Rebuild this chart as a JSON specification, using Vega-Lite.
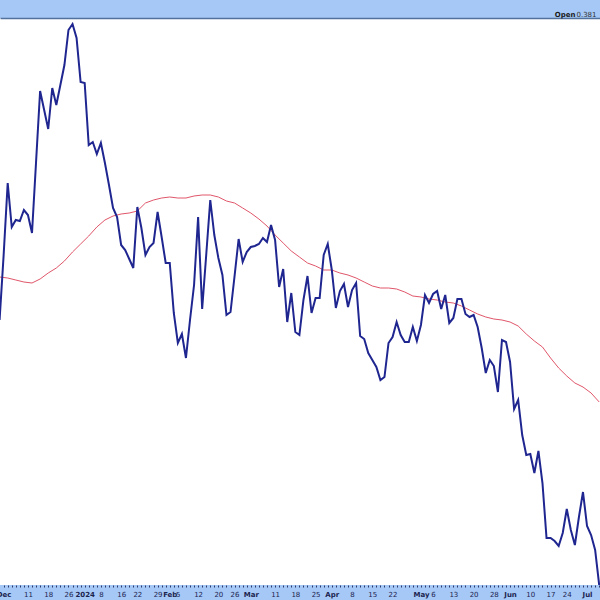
{
  "$schema": "https://vega.github.io/schema/vega-lite/v6.json",
  "width": 600,
  "height": 567,
  "autosize": {"type": "none"},
  "padding": {"top": 18, "bottom": 15, "left": 0, "right": 0},
  "background": "#a6c8f6",
  "view": {"fill": "white", "stroke": null},
  "config": {"axis": {"grid": false}},
  "data": {"values": [
    {"day": -1, "close": 0.625, "sma": 0.668},
    {"day": 0, "close": 0.690},
    {"day": 1, "close": 0.762, "sma": 0.667},
    {"day": 2, "close": 0.718},
    {"day": 3, "close": 0.725, "sma": 0.665},
    {"day": 4, "close": 0.724},
    {"day": 5, "close": 0.735, "sma": 0.663},
    {"day": 6, "close": 0.730},
    {"day": 7, "close": 0.712, "sma": 0.662},
    {"day": 8, "close": 0.783},
    {"day": 9, "close": 0.854, "sma": 0.666},
    {"day": 10, "close": 0.835},
    {"day": 11, "close": 0.816, "sma": 0.672},
    {"day": 12, "close": 0.857},
    {"day": 13, "close": 0.840, "sma": 0.677},
    {"day": 14, "close": 0.860},
    {"day": 15, "close": 0.880, "sma": 0.684},
    {"day": 16, "close": 0.915},
    {"day": 17, "close": 0.921, "sma": 0.693},
    {"day": 18, "close": 0.907},
    {"day": 19, "close": 0.863, "sma": 0.701},
    {"day": 20, "close": 0.862},
    {"day": 21, "close": 0.800, "sma": 0.709},
    {"day": 22, "close": 0.803},
    {"day": 23, "close": 0.791, "sma": 0.718},
    {"day": 24, "close": 0.802},
    {"day": 25, "close": 0.782, "sma": 0.725},
    {"day": 26, "close": 0.760},
    {"day": 27, "close": 0.737, "sma": 0.729},
    {"day": 28, "close": 0.728},
    {"day": 29, "close": 0.700, "sma": 0.731},
    {"day": 30, "close": 0.695},
    {"day": 31, "close": 0.686, "sma": 0.732},
    {"day": 32, "close": 0.677},
    {"day": 33, "close": 0.738, "sma": 0.734},
    {"day": 34, "close": 0.717},
    {"day": 35, "close": 0.690, "sma": 0.742},
    {"day": 36, "close": 0.698},
    {"day": 37, "close": 0.702, "sma": 0.745},
    {"day": 38, "close": 0.733},
    {"day": 39, "close": 0.708, "sma": 0.747},
    {"day": 40, "close": 0.682},
    {"day": 41, "close": 0.682, "sma": 0.748},
    {"day": 42, "close": 0.632},
    {"day": 43, "close": 0.602, "sma": 0.747},
    {"day": 44, "close": 0.611},
    {"day": 45, "close": 0.587, "sma": 0.747},
    {"day": 46, "close": 0.625},
    {"day": 47, "close": 0.660, "sma": 0.749},
    {"day": 48, "close": 0.728},
    {"day": 49, "close": 0.636, "sma": 0.750},
    {"day": 50, "close": 0.690},
    {"day": 51, "close": 0.745, "sma": 0.750},
    {"day": 52, "close": 0.710},
    {"day": 53, "close": 0.687, "sma": 0.748},
    {"day": 54, "close": 0.670},
    {"day": 55, "close": 0.630, "sma": 0.744},
    {"day": 56, "close": 0.633},
    {"day": 57, "close": 0.669, "sma": 0.742},
    {"day": 58, "close": 0.706},
    {"day": 59, "close": 0.683, "sma": 0.737},
    {"day": 60, "close": 0.693},
    {"day": 61, "close": 0.698, "sma": 0.732},
    {"day": 62, "close": 0.699},
    {"day": 63, "close": 0.701, "sma": 0.726},
    {"day": 64, "close": 0.707},
    {"day": 65, "close": 0.703, "sma": 0.719},
    {"day": 66, "close": 0.720},
    {"day": 67, "close": 0.705, "sma": 0.710},
    {"day": 68, "close": 0.658},
    {"day": 69, "close": 0.676, "sma": 0.702},
    {"day": 70, "close": 0.623},
    {"day": 71, "close": 0.652, "sma": 0.694},
    {"day": 72, "close": 0.613},
    {"day": 73, "close": 0.610, "sma": 0.688},
    {"day": 74, "close": 0.645},
    {"day": 75, "close": 0.669, "sma": 0.682},
    {"day": 76, "close": 0.632},
    {"day": 77, "close": 0.647, "sma": 0.679},
    {"day": 78, "close": 0.647},
    {"day": 79, "close": 0.690, "sma": 0.675},
    {"day": 80, "close": 0.701},
    {"day": 81, "close": 0.675, "sma": 0.675},
    {"day": 82, "close": 0.637},
    {"day": 83, "close": 0.654, "sma": 0.672},
    {"day": 84, "close": 0.661},
    {"day": 85, "close": 0.638, "sma": 0.670},
    {"day": 86, "close": 0.655},
    {"day": 87, "close": 0.662, "sma": 0.667},
    {"day": 88, "close": 0.609},
    {"day": 89, "close": 0.606, "sma": 0.663},
    {"day": 90, "close": 0.592},
    {"day": 91, "close": 0.585, "sma": 0.659},
    {"day": 92, "close": 0.578},
    {"day": 93, "close": 0.565, "sma": 0.657},
    {"day": 94, "close": 0.568},
    {"day": 95, "close": 0.602, "sma": 0.657},
    {"day": 96, "close": 0.608},
    {"day": 97, "close": 0.623, "sma": 0.656},
    {"day": 98, "close": 0.610},
    {"day": 99, "close": 0.603, "sma": 0.653},
    {"day": 100, "close": 0.603},
    {"day": 101, "close": 0.618, "sma": 0.649},
    {"day": 102, "close": 0.604},
    {"day": 103, "close": 0.620, "sma": 0.648},
    {"day": 104, "close": 0.650},
    {"day": 105, "close": 0.642, "sma": 0.646},
    {"day": 106, "close": 0.651},
    {"day": 107, "close": 0.654, "sma": 0.645},
    {"day": 108, "close": 0.636},
    {"day": 109, "close": 0.650, "sma": 0.643},
    {"day": 110, "close": 0.622},
    {"day": 111, "close": 0.627, "sma": 0.642},
    {"day": 112, "close": 0.646},
    {"day": 113, "close": 0.646, "sma": 0.639},
    {"day": 114, "close": 0.631},
    {"day": 115, "close": 0.628, "sma": 0.635},
    {"day": 116, "close": 0.630},
    {"day": 117, "close": 0.618, "sma": 0.631},
    {"day": 118, "close": 0.597},
    {"day": 119, "close": 0.572, "sma": 0.628},
    {"day": 120, "close": 0.585},
    {"day": 121, "close": 0.579, "sma": 0.626},
    {"day": 122, "close": 0.553},
    {"day": 123, "close": 0.605, "sma": 0.625},
    {"day": 124, "close": 0.603},
    {"day": 125, "close": 0.583, "sma": 0.623},
    {"day": 126, "close": 0.536},
    {"day": 127, "close": 0.545, "sma": 0.619},
    {"day": 128, "close": 0.510},
    {"day": 129, "close": 0.490, "sma": 0.611},
    {"day": 130, "close": 0.491},
    {"day": 131, "close": 0.472, "sma": 0.604},
    {"day": 132, "close": 0.494},
    {"day": 133, "close": 0.462, "sma": 0.598},
    {"day": 134, "close": 0.407},
    {"day": 135, "close": 0.407, "sma": 0.587},
    {"day": 136, "close": 0.404},
    {"day": 137, "close": 0.399, "sma": 0.577},
    {"day": 138, "close": 0.412},
    {"day": 139, "close": 0.436, "sma": 0.569},
    {"day": 140, "close": 0.415},
    {"day": 141, "close": 0.400, "sma": 0.562},
    {"day": 142, "close": 0.428},
    {"day": 143, "close": 0.453, "sma": 0.558},
    {"day": 144, "close": 0.419},
    {"day": 145, "close": 0.410, "sma": 0.552},
    {"day": 146, "close": 0.395},
    {"day": 147, "close": 0.360, "sma": 0.543}
  ]},
  "resolve": {"axis": {"x": "independent"}},
  "layer": [
    {
      "transform": [{"filter": "isValid(datum.sma)"}],
      "mark": {"type": "line", "color": "#e0566a", "strokeWidth": 1, "clip": true},
      "encoding": {
        "x": {"field": "day", "type": "quantitative",
              "scale": {"domain": [-0.9, 147.2], "nice": false, "zero": false},
              "axis": {"orient": "top", "domain": true, "domainColor": "#52719c", "domainWidth": 1.5,
                       "ticks": false, "labels": false, "title": "Open",
                       "titleFont": "DejaVu Sans", "titleFontSize": 7, "titleFontWeight": "bold",
                       "titleColor": "#1a1a1a", "titleAlign": "right", "titleBaseline": "alphabetic",
                       "titleAnchor": "end", "titleX": 575, "titleY": -2, "titleAngle": 0}},
        "y": {"field": "sma", "type": "quantitative",
              "scale": {"domain": [0.36, 0.927], "nice": false, "zero": false},
              "axis": {"orient": "right", "domain": false, "ticks": false, "labels": false,
                       "title": "0.381", "titleFont": "DejaVu Sans", "titleFontSize": 7,
                       "titleFontWeight": "normal", "titleColor": "#333333", "titleAngle": 0,
                       "titleAlign": "right", "titleBaseline": "alphabetic",
                       "titleX": -4, "titleY": -2}}
      }
    },
    {
      "mark": {"type": "line", "color": "#1f2690", "strokeWidth": 2, "clip": true},
      "encoding": {
        "x": {"field": "day", "type": "quantitative",
              "scale": {"domain": [-0.9, 147.2], "nice": false, "zero": false},
              "axis": {"orient": "bottom", "domain": false, "title": null,
                       "values": [0,1,2,3,4,5,6,7,8,9,10,11,12,13,14,15,16,17,18,19,20,21,22,23,24,25,26,27,28,29,30,31,32,33,34,35,36,37,38,39,40,41,42,43,44,45,46,47,48,49,50,51,52,53,54,55,56,57,58,59,60,61,62,63,64,65,66,67,68,69,70,71,72,73,74,75,76,77,78,79,80,81,82,83,84,85,86,87,88,89,90,91,92,93,94,95,96,97,98,99,100,101,102,103,104,105,106,107,108,109,110,111,112,113,114,115,116,117,118,119,120,121,122,123,124,125,126,127,128,129,130,131,132,133,134,135,136,137,138,139,140,141,142,143,144,145,146,147],
                       "tickSize": 2, "tickColor": "#2a3a6a", "tickWidth": 1,
                       "labelExpr": "indexof([0,6,11,16,20,24,29,33,38,41,43,48,53,57,61,67,72,77,81,86,91,96,103,106,111,116,121,125,130,135,139,144], datum.value) >= 0 ? ['Dec','11','18','26','2024','8','16','22','29','Feb','5','12','20','26','Mar','11','18','25','Apr','8','15','22','May','6','13','20','28','Jun','10','17','24','Jul'][indexof([0,6,11,16,20,24,29,33,38,41,43,48,53,57,61,67,72,77,81,86,91,96,103,106,111,116,121,125,130,135,139,144], datum.value)] : ''",
                       "labelFontWeight": {"condition": {"test": "indexof([0,20,41,61,81,103,125,144], datum.value) >= 0", "value": "bold"}, "value": "normal"},
                       "labelFont": "DejaVu Sans", "labelFontSize": 7, "labelColor": "#1c2450",
                       "labelPadding": 3, "labelOverlap": false, "labelFlush": false, "labelBound": false}},
        "y": {"field": "close", "type": "quantitative",
              "scale": {"domain": [0.36, 0.927], "nice": false, "zero": false},
              "axis": {"orient": "right", "domain": false, "ticks": false, "labels": false,
                       "title": "0.381", "titleFont": "DejaVu Sans", "titleFontSize": 7,
                       "titleFontWeight": "normal", "titleColor": "#333333", "titleAngle": 0,
                       "titleAlign": "right", "titleBaseline": "alphabetic",
                       "titleX": -4, "titleY": -2}}
      }
    }
  ]
}
